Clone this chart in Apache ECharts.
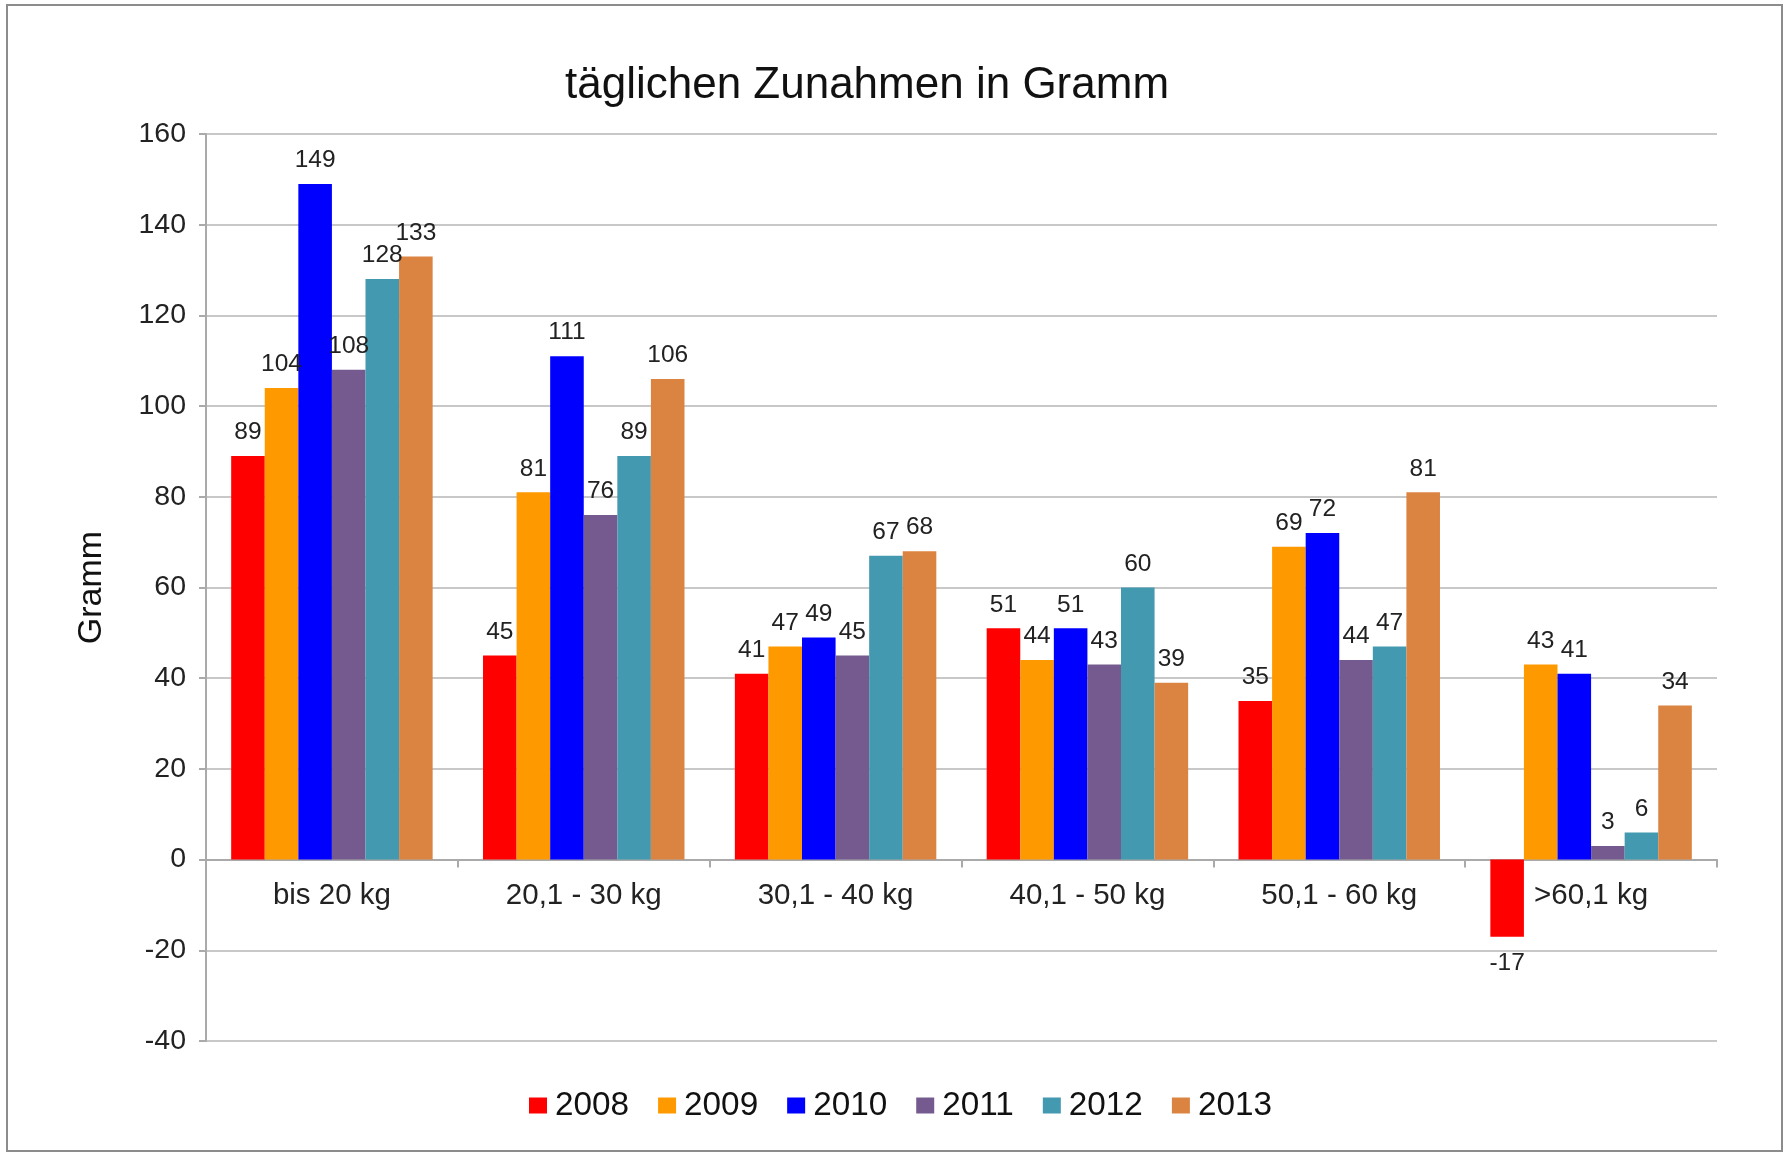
<!DOCTYPE html>
<html>
<head>
<meta charset="utf-8">
<title>täglichen Zunahmen in Gramm</title>
<script src="https://cdn.jsdelivr.net/npm/echarts@6/dist/echarts.min.js"></script>
<style>
  html, body { margin: 0; padding: 0; background: #fff; }
  #chart { width: 1790px; height: 1153px; }
</style>
</head>
<body>
<div id="chart"></div>
<script>
// Gewichtsklassen
const categories = ['bis 20 kg', '20,1 - 30 kg', '30,1 - 40 kg', '40,1 - 50 kg', '50,1 - 60 kg', '>60,1 kg'];
const years = ['2008', '2009', '2010', '2011', '2012', '2013'];

const values2008 = [89, 45, 41, 51, 35, -17];
const values2009 = [104, 81, 47, 44, 69, 43];
const values2010 = [149, 111, 49, 51, 72, 41];
const values2011 = [108, 76, 45, 43, 44, 3];
const values2012 = [128, 89, 67, 60, 47, 6];
const values2013 = [133, 106, 68, 39, 81, 34];

const yTicks = { min: -40, max: 160, interval: 20 };

const colors = ['#ff0000', '#ff9900', '#0000ff', '#745a8f', '#4399af', '#db8441'];
const allValues = [values2008, values2009, values2010, values2011, values2012, values2013];

const font = '"Liberation Sans", Arial, sans-serif';

let dom = document.getElementById('chart');
let myChart = echarts.init(dom);

let series = years.map(function (year, i) {
    return {
        name: year,
        type: 'bar',
        barGap: '0%',
        barCategoryGap: '20%',
        itemStyle: { color: colors[i] },
        label: {
            show: true,
            distance: 11,
            color: '#222',
            fontSize: 24.5,
            fontFamily: font
        },
        // negative values get their label below the bar
        data: allValues[i].map(function (v) {
            return {
                value: v,
                label: v < 0 ? { position: 'bottom', distance: 14 } : { position: 'top' }
            };
        })
    };
});

let options = {
    animation: false,
    backgroundColor: '#fff',
    color: colors,
    title: {
        text: 'täglichen Zunahmen in Gramm',
        left: 862,
        top: 59,
        textAlign: 'center',
        textStyle: {
            fontSize: 44,
            fontWeight: 'normal',
            color: '#111',
            fontFamily: font
        }
    },
    legend: {
        data: years,
        left: 524,
        top: 1084,
        icon: 'rect',
        itemWidth: 18,
        itemHeight: 16,
        itemGap: 29,
        textStyle: {
            fontSize: 33.3,
            color: '#111',
            fontFamily: font,
            padding: [0, 0, 0, 3]
        }
    },
    grid: {
        left: 206,
        right: 73,
        top: 134,
        bottom: 112,
        containLabel: false
    },
    xAxis: {
        type: 'category',
        data: categories,
        axisLine: { onZero: true, lineStyle: { color: '#aaa', width: 2 } },
        axisTick: { show: true, length: 8, lineStyle: { color: '#aaa', width: 2 } },
        axisLabel: {
            fontSize: 29.5,
            color: '#222',
            fontFamily: font,
            // labels sit under the zero line, not at the bottom of the grid
            margin: -160
        }
    },
    yAxis: {
        type: 'value',
        min: yTicks.min,
        max: yTicks.max,
        interval: yTicks.interval,
        name: 'Gramm',
        nameLocation: 'middle',
        nameRotate: 90,
        nameGap: 97,
        nameTextStyle: {
            fontSize: 34,
            color: '#111',
            fontFamily: font
        },
        axisLine: { show: true, lineStyle: { color: '#aaa', width: 2 } },
        axisTick: { show: true, length: 7, lineStyle: { color: '#aaa', width: 2 } },
        axisLabel: {
            fontSize: 28.5,
            color: '#222',
            fontFamily: font,
            margin: 20
        },
        splitLine: { lineStyle: { color: '#c8c8c8', width: 2 } }
    },
    graphic: [{
        type: 'rect',
        silent: true,
        shape: { x: 7, y: 5, width: 1775, height: 1146 },
        style: { fill: null, stroke: '#8c8c8c', lineWidth: 2 }
    }],
    series: series
};

myChart.setOption(options);
</script>
</body>
</html>
